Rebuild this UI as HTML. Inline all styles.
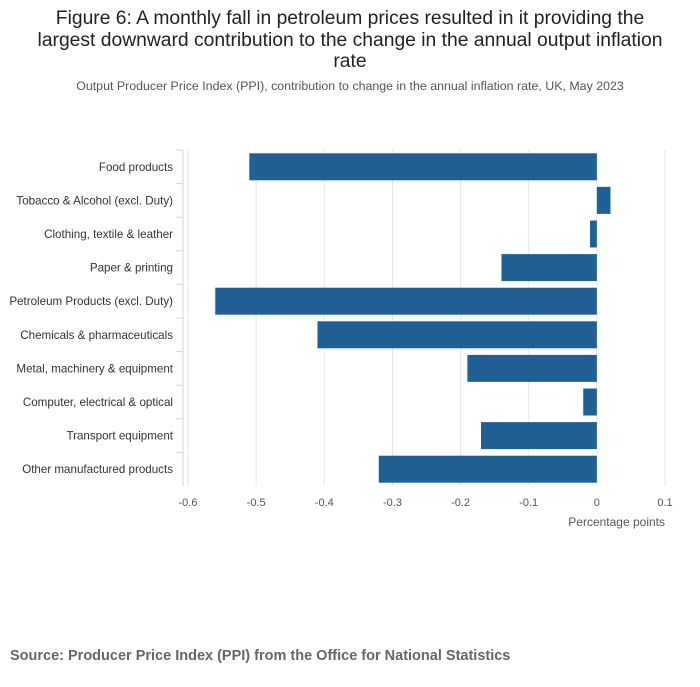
<!DOCTYPE html>
<html><head><meta charset="utf-8"><style>
body{margin:0;background:#fff;font-family:"Liberation Sans",sans-serif;}
</style></head><body>
<svg width="700" height="682" xmlns="http://www.w3.org/2000/svg" id="c">
<text x="350" y="24" text-anchor="middle" font-size="19.3" fill="#222">Figure 6: A monthly fall in petroleum prices resulted in it providing the</text>
<text x="350" y="46" text-anchor="middle" font-size="19.3" fill="#222">largest downward contribution to the change in the annual output inflation</text>
<text x="350" y="67" text-anchor="middle" font-size="19.3" fill="#222">rate</text>
<text x="350" y="90" text-anchor="middle" font-size="12.4" fill="#555">Output Producer Price Index (PPI), contribution to change in the annual inflation rate, UK, May 2023</text>
<g id="grid"></g><g id="bars"></g><g id="labels"></g>
<text x="665" y="526" text-anchor="end" font-size="12" fill="#555">Percentage points</text>
<text x="10" y="660" font-size="14.5" font-weight="bold" fill="#666">Source: Producer Price Index (PPI) from the Office for National Statistics</text>
</svg>
<script>
const categories=["Food products","Tobacco & Alcohol (excl. Duty)","Clothing, textile & leather","Paper & printing","Petroleum Products (excl. Duty)","Chemicals & pharmaceuticals","Metal, machinery & equipment","Computer, electrical & optical","Transport equipment","Other manufactured products"];
const values=[-0.51,0.02,-0.01,-0.14,-0.56,-0.41,-0.19,-0.02,-0.17,-0.32];
const ticks=[-0.6,-0.5,-0.4,-0.3,-0.2,-0.1,0,0.1];
const tickLabels=["-0.6","-0.5","-0.4","-0.3","-0.2","-0.1","0","0.1"];
const NS="http://www.w3.org/2000/svg";
const xs=v=>188+(v+0.6)/0.7*477;
const plotTop=150,plotBottom=486,band=(plotBottom-plotTop)/categories.length;
const ys=i=>plotTop+i*band;
function mk(t,a,p){const e=document.createElementNS(NS,t);for(const k in a)e.setAttribute(k,a[k]);p.appendChild(e);return e;}
const g=document.getElementById('grid'),b=document.getElementById('bars'),l=document.getElementById('labels');
ticks.forEach((t,i)=>{
 const ln=mk('line',{x1:xs(t),x2:xs(t),y1:plotTop,y2:plotBottom,stroke:'#e6e6e6'},g);
 
 
 const tx=mk('text',{x:xs(t),y:506,'text-anchor':'middle','font-size':11,fill:'#555'},g);
 tx.textContent=tickLabels[i];
 
 
});
const ax=mk('line',{x1:183,x2:183,y1:plotTop,y2:plotBottom,stroke:'#ccd6eb'},g);


categories.forEach((c,i)=>{
 const v=values[i],x0=Math.min(xs(0),xs(v)),w=Math.abs(xs(v)-xs(0));
 const r=mk('rect',{x:x0,y:ys(i)+3.3,width:w,height:band-6.6,fill:'#206095'},b);
 
 
 const tk=mk('line',{x1:176,x2:183,y1:ys(i),y2:ys(i),stroke:'#ccd6eb'},g);
 
 
 const t=mk('text',{x:173,y:ys(i)+band/2+4,'text-anchor':'end','font-size':11.6,fill:'#333'},l);
 t.textContent=c;
 
 
});
</script>
</body></html>
